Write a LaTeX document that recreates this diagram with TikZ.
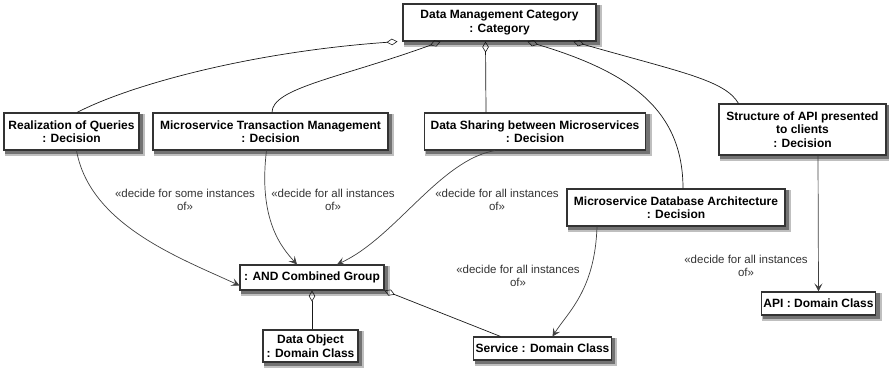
\documentclass[tikz,border=0pt]{standalone}
\usepackage{fontspec}
\setmainfont{Liberation Sans}
\usepackage{tikz}
\usetikzlibrary{arrows,arrows.meta,backgrounds}

\begin{document}
\begin{tikzpicture}[x=1pt,y=-1pt,>=stealth',font=\fontsize{11.5}{13}\selectfont]
  \tikzstyle{thing}=[rectangle,draw=black!80,line width=1.1pt,fill=white,
                     align=center,font=\fontsize{12}{13.5}\selectfont\bfseries,
                     inner sep=2pt]
  \tikzstyle{part}=[draw=black!90,line width=0.7pt,
                    {Diamond[open,length=11pt,width=6.5pt,line width=0.6pt]}-]
  \tikzstyle{decide}=[draw=black!75,line width=0.7pt,
                      -{Stealth[length=8pt,width=8pt,inset=3.5pt]}]
  \tikzstyle{note}=[align=center,text=black!80,inner sep=0pt]

  \useasboundingbox (0,0) rectangle (889,372);

  % boxes
  \node [thing,minimum width=193pt,minimum height=37pt] (dmc) at (499.5,22.5)
        {Data Management Category\\: Category};
  \node [thing,minimum width=135pt,minimum height=37pt] (roq) at (71.5,131.5)
        {Realization of Queries\\: Decision};
  \node [thing,minimum width=235pt,minimum height=37pt] (mtm) at (270.5,131.5)
        {Microservice Transaction Management\\: Decision};
  \node [thing,minimum width=221pt,minimum height=37pt] (dsm) at (535,131.5)
        {Data Sharing between Microservices\\: Decision};
  \node [thing,minimum width=218pt,minimum height=37pt] (mda) at (676,207.5)
        {Microservice Database Architecture\\: Decision};
  \node [thing,minimum width=167pt,minimum height=51pt] (sac) at (802.5,129.5)
        {Structure of API presented\\to clients\\: Decision};
  \node [thing,minimum width=144pt,minimum height=25pt] (grp) at (312,277.5)
        {: AND Combined Group};
  \node [thing,minimum width=95pt,minimum height=32pt] (dob) at (310.5,346)
        {Data Object\\: Domain Class};
  \node [thing,minimum width=135pt,minimum height=23pt] (svc) at (542.5,348.5)
        {Service : Domain Class};
  \node [thing,minimum width=113pt,minimum height=23pt] (api) at (818.5,303.5)
        {API : Domain Class};

  % shadows
  \begin{scope}[on background layer]
    \foreach \n in {dmc,roq,mtm,dsm,mda,sac,grp,dob,svc,api} {
      \fill [black!25] ([shift={(1.5pt,-5.5pt)}]\n.south west) rectangle ([shift={(5.5pt,-1.5pt)}]\n.north east);
      \fill [black!55] ([shift={(2pt,-3.5pt)}]\n.south west) rectangle ([shift={(3.5pt,-2pt)}]\n.north east);
    }
  \end{scope}

  % category parts
  \draw [part] ([xshift=-102pt]dmc.south) .. controls (250,52) and (130,85) .. ([xshift=5.5pt]roq.north);
  \draw [part] ([xshift=-59pt]dmc.south) .. controls (340,78) and (272,88) .. ([xshift=1.5pt]mtm.north);
  \draw [part] ([xshift=-14pt]dmc.south) -- ([xshift=-49pt]dsm.north);
  \draw [part] ([xshift=28pt]dmc.south) .. controls (630,72) and (683,110) .. ([xshift=7pt]mda.north);
  \draw [part] ([xshift=74pt]dmc.south) .. controls (680,72) and (725,80) .. ([xshift=-64pt]sac.north);

  % decisions
  \draw [decide] ([xshift=5pt]roq.south) .. controls (90,225) and (180,258) .. ([yshift=-8pt]grp.west);
  \draw [decide] ([xshift=-4pt]mtm.south) .. controls (258,220) and (282,248) .. ([xshift=-15pt]grp.north);
  \draw [decide] ([xshift=-40pt]dsm.south) .. controls (440,160) and (395,238) .. ([xshift=25pt]grp.north);
  \draw [decide] ([xshift=-79pt]mda.south) .. controls (595,290) and (568,312) .. ([xshift=10pt]svc.north);
  \draw [decide] ([xshift=15.5pt]sac.south) -- (api.north);

  % group parts
  \draw [part] (grp.south) -- ([xshift=1.5pt]dob.north);
  \draw [part] (grp.south east) -- ([xshift=-42pt]svc.north);

  % labels
  \node [note] (l1) at (185,200) {«decide for some instances\\of»};
  \node [note] (l2) at (333,200) {«decide for all instances\\of»};
  \node [note] (l3) at (497,200) {«decide for all instances\\of»};
  \node [note] (l4) at (518,276) {«decide for all instances\\of»};
  \node [note] (l5) at (746,266) {«decide for all instances\\of»};
\end{tikzpicture}
\end{document}
